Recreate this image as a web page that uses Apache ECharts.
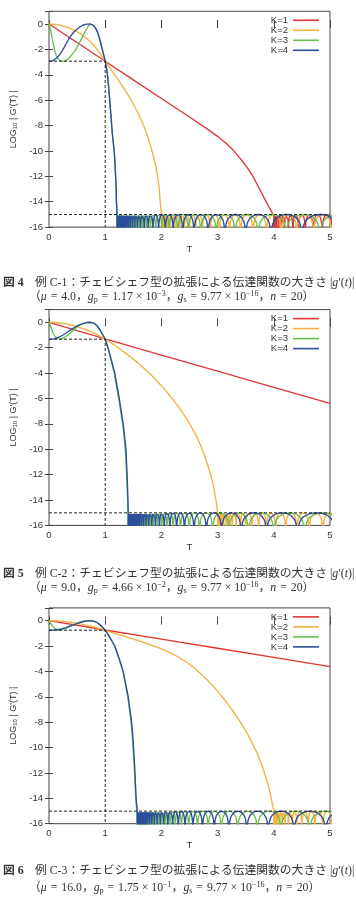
<!DOCTYPE html>
<html><head><meta charset="utf-8">
<script src="https://cdn.jsdelivr.net/npm/echarts@6/dist/echarts.min.js"></script>
<style>html,body{margin:0;padding:0;background:#fff;}#c{width:356px;height:900px;}</style>
</head><body><div id="c"></div>
<script>
// ---------- data ----------
const T_TICKS = [0, 1, 2, 3, 4, 5];
const Y_TICKS = [-16, -14, -12, -10, -8, -6, -4, -2, 0];
const SERIES_NAMES = ['K=1', 'K=2', 'K=3', 'K=4'];
const GP_LOG = [-2.93, -1.33, -0.757];   // log10 gp for C-1, C-2, C-3
const GS_LOG = -15.01;                   // log10 gs
const T_PASS = 1;

// Chart C-1 (mu = 4.0)
const c1_k1 = [[0,0],[0.5,-1.46],[1,-2.93],[1.5,-4.4],[2,-5.87],[2.5,-7.33],[2.8,-8.22],[3,-8.85],[3.15,-9.4],[3.3,-10.05],[3.45,-10.85],[3.55,-11.45],[3.63,-12],[3.7,-12.6],[3.78,-13.28],[3.87,-14.05],[3.93,-14.55],[3.98,-14.95],[4,-15.1]];
const c1_k2 = [[0,0],[0.1,-0.03],[0.2,-0.1],[0.3,-0.22],[0.4,-0.38],[0.5,-0.6],[0.6,-0.88],[0.7,-1.25],[0.8,-1.7],[0.9,-2.25],[1,-2.93],[1.05,-3.25],[1.1,-3.57],[1.2,-4.2],[1.3,-4.85],[1.4,-5.55],[1.5,-6.3],[1.6,-7.15],[1.65,-7.65],[1.7,-8.2],[1.75,-8.8],[1.8,-9.5],[1.85,-10.3],[1.9,-11.2],[1.93,-11.9],[1.96,-12.9],[1.975,-13.8],[1.99,-14.5],[2,-15.01]];
const c1_k3 = [[0,0],[0.015,-0.22],[0.03,-0.5],[0.045,-0.85],[0.06,-1.2],[0.075,-1.55],[0.09,-1.84],[0.11,-2.2],[0.13,-2.5],[0.155,-2.72],[0.18,-2.86],[0.21,-2.92],[0.25,-2.93],[0.29,-2.89],[0.33,-2.8],[0.375,-2.6],[0.42,-2.35],[0.46,-2.1],[0.5,-1.84],[0.54,-1.5],[0.58,-1.15],[0.62,-0.8],[0.65,-0.53],[0.68,-0.3],[0.7,-0.15],[0.72,-0.04],[0.74,0],[0.77,-0.05],[0.8,-0.15],[0.83,-0.35],[0.86,-0.6],[0.89,-1.0],[0.92,-1.5],[0.94,-1.85],[0.96,-2.2],[0.98,-2.55],[1,-2.93],[1.02,-3.4],[1.04,-4],[1.06,-4.9],[1.08,-6],[1.1,-7.1],[1.115,-8],[1.135,-9],[1.16,-10],[1.175,-11],[1.185,-12],[1.195,-13],[1.2,-14],[1.21,-15.01]];
const c1_k4 = [[0,-2.93],[0.05,-2.9],[0.1,-2.8],[0.15,-2.62],[0.2,-2.35],[0.235,-2.1],[0.27,-1.84],[0.31,-1.5],[0.35,-1.2],[0.385,-0.95],[0.42,-0.75],[0.46,-0.55],[0.5,-0.4],[0.55,-0.22],[0.6,-0.1],[0.64,-0.04],[0.68,-0.01],[0.74,0],[0.77,-0.05],[0.8,-0.15],[0.83,-0.35],[0.86,-0.6],[0.89,-1.0],[0.92,-1.5],[0.94,-1.85],[0.96,-2.2],[0.98,-2.55],[1,-2.93],[1.02,-3.4],[1.04,-4],[1.06,-4.9],[1.08,-6],[1.1,-7.1],[1.115,-8],[1.135,-9],[1.16,-10],[1.175,-11],[1.185,-12],[1.195,-13],[1.2,-14],[1.21,-15.01]];
const c1_z1 = [4.0,4.005,4.015,4.03,4.055,4.09,4.135,4.19,4.26,4.34,4.44,4.56,4.7,4.86,5.04];
const c1_z2 = [2.0,2.004,2.01,2.02,2.035,2.055,2.08,2.11,2.15,2.2,2.26,2.33,2.41,2.5,2.61,2.73,2.87,3.03,3.21,3.41,3.63,3.87,4.13,4.41,4.71,5.03];
const c1_z3 = [1.21,1.218,1.224,1.232,1.24,1.25,1.262,1.275,1.29,1.307,1.326,1.348,1.373,1.4,1.431,1.466,1.506,1.551,1.602,1.66,1.728,1.806,1.898,2.008,2.138,2.293,2.478,2.7,2.975,3.31,3.72,4.22,4.82,5.5];
const c1_z4 = [1.21,1.215,1.221,1.228,1.236,1.245,1.256,1.268,1.282,1.298,1.316,1.337,1.36,1.386,1.415,1.448,1.485,1.527,1.575,1.63,1.693,1.765,1.85,1.95,2.07,2.21,2.38,2.58,2.83,3.13,3.5,3.95,4.5,5.15];

// Chart C-2 (mu = 9.0)
const c2_k1 = [[0,0],[1,-1.3],[2,-2.58],[3,-3.85],[4,-5.12],[5,-6.38]];
const c2_k2 = [[0,0],[0.1,-0.013],[0.2,-0.053],[0.3,-0.12],[0.4,-0.213],[0.5,-0.333],[0.6,-0.479],[0.7,-0.652],[0.8,-0.851],[0.9,-1.077],[1,-1.33],[1.1,-1.62],[1.2,-1.91],[1.3,-2.22],[1.4,-2.55],[1.5,-2.9],[1.6,-3.27],[1.7,-3.66],[1.8,-4.08],[1.9,-4.53],[2,-5],[2.1,-5.5],[2.2,-6.05],[2.3,-6.63],[2.4,-7.27],[2.5,-7.97],[2.6,-8.77],[2.65,-9.22],[2.7,-9.72],[2.75,-10.28],[2.8,-10.9],[2.85,-11.6],[2.9,-12.4],[2.94,-13.2],[2.97,-14],[2.99,-14.6],[3,-15.01]];
const c2_k3 = [[0,0],[0.02,-0.22],[0.04,-0.45],[0.06,-0.7],[0.08,-0.9],[0.1,-1.07],[0.12,-1.2],[0.15,-1.29],[0.18,-1.33],[0.21,-1.31],[0.25,-1.25],[0.3,-1.12],[0.35,-0.95],[0.4,-0.75],[0.45,-0.55],[0.5,-0.37],[0.55,-0.22],[0.6,-0.11],[0.65,-0.04],[0.72,0],[0.76,-0.02],[0.8,-0.08],[0.83,-0.17],[0.86,-0.3],[0.89,-0.48],[0.92,-0.72],[0.96,-1.02],[0.98,-1.17],[1,-1.33],[1.025,-1.67],[1.05,-2.05],[1.075,-2.45],[1.1,-2.9],[1.13,-3.45],[1.16,-4],[1.2,-5],[1.24,-6],[1.275,-7],[1.31,-8],[1.335,-9],[1.355,-10],[1.37,-11],[1.38,-12],[1.39,-13],[1.398,-14],[1.405,-15.01]];
const c2_k4 = [[0,-1.33],[0.05,-1.32],[0.1,-1.28],[0.15,-1.21],[0.2,-1.12],[0.25,-1.0],[0.3,-0.86],[0.35,-0.71],[0.4,-0.56],[0.45,-0.42],[0.5,-0.29],[0.55,-0.18],[0.6,-0.1],[0.67,-0.02],[0.74,0],[0.77,-0.03],[0.8,-0.08],[0.83,-0.17],[0.86,-0.3],[0.89,-0.48],[0.92,-0.7],[0.96,-1.0],[0.98,-1.16],[1,-1.33],[1.025,-1.65],[1.05,-2],[1.075,-2.4],[1.1,-2.8],[1.135,-3.4],[1.17,-4],[1.21,-5],[1.25,-6],[1.285,-7],[1.32,-8],[1.345,-9],[1.37,-10],[1.38,-11],[1.39,-12],[1.398,-13],[1.405,-14],[1.41,-15.01]];
const c2_z1 = [];
const c2_z2 = [3.0,3.004,3.012,3.025,3.045,3.072,3.107,3.15,3.2,3.26,3.33,3.41,3.5,3.61,3.73,3.87,4.03,4.21,4.41,4.63,4.87,5.13];
const c2_z3 = [1.405,1.413,1.42,1.428,1.437,1.447,1.459,1.472,1.487,1.504,1.523,1.545,1.57,1.597,1.628,1.663,1.703,1.748,1.8,1.86,1.928,2.006,2.098,2.208,2.338,2.493,2.678,2.91,3.2,3.55,4.0,4.55,5.2];
const c2_z4 = [1.41,1.415,1.421,1.428,1.436,1.445,1.456,1.468,1.482,1.498,1.516,1.537,1.56,1.586,1.615,1.648,1.685,1.727,1.775,1.83,1.893,1.965,2.05,2.15,2.27,2.41,2.58,2.8,3.07,3.42,3.87,4.42,5.1];

// Chart C-3 (mu = 16.0)
const c3_k1 = [[0,0],[1,-0.74],[2,-1.46],[3,-2.18],[4,-2.9],[5,-3.63]];
const c3_k2 = [[0,0],[0.1,-0.012],[0.2,-0.042],[0.3,-0.087],[0.4,-0.146],[0.5,-0.217],[0.6,-0.3],[0.7,-0.395],[0.8,-0.506],[0.9,-0.625],[1,-0.757],[1.1,-0.9],[1.2,-1.04],[1.3,-1.18],[1.4,-1.32],[1.5,-1.46],[1.6,-1.6],[1.7,-1.75],[1.8,-1.9],[1.9,-2.06],[2,-2.23],[2.1,-2.42],[2.2,-2.63],[2.3,-2.87],[2.4,-3.14],[2.5,-3.44],[2.6,-3.78],[2.7,-4.18],[2.8,-4.6],[2.9,-5.06],[3,-5.56],[3.1,-6.1],[3.2,-6.68],[3.3,-7.3],[3.4,-7.96],[3.5,-8.68],[3.6,-9.5],[3.7,-10.42],[3.75,-10.95],[3.8,-11.55],[3.85,-12.2],[3.9,-12.95],[3.94,-13.7],[3.97,-14.35],[3.99,-14.8],[4,-15.01]];
const c3_k3 = [[0,0],[0.025,-0.19],[0.05,-0.35],[0.075,-0.5],[0.1,-0.62],[0.13,-0.71],[0.17,-0.757],[0.21,-0.745],[0.25,-0.7],[0.3,-0.61],[0.35,-0.5],[0.42,-0.35],[0.5,-0.2],[0.56,-0.11],[0.62,-0.04],[0.72,0],[0.77,-0.02],[0.82,-0.08],[0.86,-0.17],[0.9,-0.3],[0.95,-0.52],[0.975,-0.63],[1,-0.757],[1.04,-1.0],[1.08,-1.32],[1.12,-1.65],[1.165,-2],[1.205,-2.5],[1.245,-3],[1.28,-3.5],[1.315,-4],[1.36,-5],[1.4,-6],[1.43,-7],[1.46,-8],[1.48,-9],[1.495,-10],[1.51,-11],[1.522,-12],[1.533,-13],[1.543,-14],[1.565,-15.01]];
const c3_k4 = [[0,-0.757],[0.08,-0.75],[0.15,-0.72],[0.22,-0.65],[0.3,-0.56],[0.37,-0.44],[0.45,-0.31],[0.52,-0.2],[0.6,-0.09],[0.66,-0.03],[0.73,0],[0.78,-0.02],[0.82,-0.08],[0.86,-0.17],[0.9,-0.3],[0.95,-0.5],[0.975,-0.62],[1,-0.757],[1.04,-1.0],[1.08,-1.3],[1.125,-1.65],[1.17,-2],[1.21,-2.5],[1.25,-3],[1.285,-3.5],[1.32,-4],[1.365,-5],[1.41,-6],[1.44,-7],[1.47,-8],[1.49,-9],[1.505,-10],[1.518,-11],[1.53,-12],[1.54,-13],[1.55,-14],[1.57,-15.01]];
const c3_z1 = [];
const c3_z2 = [4.0,4.004,4.012,4.025,4.045,4.072,4.107,4.15,4.2,4.26,4.33,4.41,4.5,4.61,4.73,4.87,5.03];
const c3_z3 = [1.565,1.573,1.58,1.588,1.597,1.607,1.619,1.633,1.649,1.668,1.689,1.713,1.741,1.772,1.807,1.847,1.893,1.946,2.006,2.074,2.153,2.246,2.356,2.486,2.641,2.831,3.066,3.356,3.706,4.126,4.636,5.256];
const c3_z4 = [1.57,1.575,1.581,1.588,1.596,1.606,1.617,1.63,1.645,1.662,1.682,1.704,1.73,1.76,1.793,1.83,1.873,1.922,1.978,2.042,2.115,2.2,2.3,2.42,2.56,2.73,2.94,3.2,3.52,3.9,4.36,4.92,5.6];

const CAP_FIG = ['図 4', '図 5', '図 6'];
const CAP_TITLE = ['例 C-1：チェビシェフ型の拡張による伝達関数の大きさ |{i|g}′({i|t})|',
                   '例 C-2：チェビシェフ型の拡張による伝達関数の大きさ |{i|g}′({i|t})|',
                   '例 C-3：チェビシェフ型の拡張による伝達関数の大きさ |{i|g}′({i|t})|'];
const CAP_MU = ['4.0', '9.0', '16.0'];
const CAP_GP = [['1.17', '−3'], ['4.66', '−2'], ['1.75', '−1']];
const CAP_GS = ['9.77', '−16'];
const CAP_N = '20';

// ---------- drawing ----------
const COLORS = ['#e03535', '#f5b03e', '#6cbf4e', '#2d4e9c'];
// arch template of one stop-band lobe (relative position, level below peak)
const ARCH_U = [0,0.01,0.03,0.06,0.1,0.15,0.2,0.3,0.4,0.5,0.6,0.7,0.8,0.85,0.9,0.94,0.97,0.99,1];
const ARCH_D = [-3,-1.5,-1.03,-0.73,-0.51,-0.34,-0.23,-0.09,-0.02,0,-0.02,-0.09,-0.23,-0.34,-0.51,-0.73,-1.03,-1.5,-3];
function lobes(zeros){
  const out = [];
  if (!zeros.length) return out;
  out.push([zeros[0], GS_LOG], [zeros[0], GS_LOG + ARCH_D[0]]);
  for (let i = 0; i < zeros.length - 1; i++) {
    const a = zeros[i], w = zeros[i+1] - a;
    for (let j = 1; j < ARCH_U.length; j++) out.push([a + ARCH_U[j]*w, GS_LOG + ARCH_D[j]]);
  }
  return out;
}

const CH = [
  {top: 11.3, main: [c1_k1,c1_k2,c1_k3,c1_k4], zeros: [c1_z1,c1_z2,c1_z3,c1_z4], capY: [284, 297]},
  {top: 309.6, main: [c2_k1,c2_k2,c2_k3,c2_k4], zeros: [c2_z1,c2_z2,c2_z3,c2_z4], capY: [575, 588]},
  {top: 607.9, main: [c3_k1,c3_k2,c3_k3,c3_k4], zeros: [c3_z1,c3_z2,c3_z3,c3_z4], capY: [872, 888]}
];
const H = 215.8;
const AX = '#444', TXT = '#333';
const grid = [], xAxis = [], yAxis = [], series = [], legend = [], graphic = [];
CH.forEach((c, i) => {
  grid.push({left: 49, width: 281, top: c.top, height: H, show: true, borderColor: AX, borderWidth: 1, containLabel: false});
  const xb = {type: 'value', gridIndex: i, min: T_TICKS[0], max: T_TICKS[T_TICKS.length-1], interval: 1,
    axisLine: {show: false}, splitLine: {show: false},
    axisTick: {inside: true, length: 4, lineStyle: {color: AX}}};
  xAxis.push(Object.assign({}, xb, {position: 'bottom', name: 'T', nameLocation: 'middle', nameGap: 17,
    nameTextStyle: {fontSize: 9.5, color: TXT, fontFamily: 'Liberation Sans'},
    axisLabel: {fontSize: 9.5, color: TXT, margin: 5, fontFamily: 'Liberation Sans'}}));
  xAxis.push(Object.assign({}, xb, {position: 'top', axisLabel: {show: false}}));
  const yb = {type: 'value', gridIndex: i, min: Y_TICKS[0], max: 1, interval: 2,
    axisLine: {show: false}, splitLine: {show: false},
    axisTick: {inside: true, length: 4, lineStyle: {color: AX}}};
  yAxis.push(Object.assign({}, yb, {position: 'left', name: 'LOG{s|10} | G\'(T) |', nameLocation: 'middle', nameGap: 28,
    nameTextStyle: {fontSize: 9, color: TXT, fontFamily: 'Liberation Sans', rich: {s: {fontSize: 6, color: TXT, verticalAlign: 'bottom', fontFamily: 'Liberation Sans'}}},
    axisLabel: {fontSize: 9.5, color: TXT, margin: 6, fontFamily: 'Liberation Sans', formatter: v => (v > 0.5 ? '' : String(v))}}));
  yAxis.push(Object.assign({}, yb, {position: 'right', axisLabel: {show: false}}));
  const xi = i*2, yi = i*2;
  for (let k = 0; k < 4; k++) {
    const common = {name: SERIES_NAMES[k], type: 'line', xAxisIndex: xi, yAxisIndex: yi, symbol: 'none', silent: true,
      animation: false, clip: true, smooth: false, color: COLORS[k], lineStyle: {width: 1.35, color: COLORS[k]}};
    series.push(Object.assign({}, common, {data: c.main[k]}));
    const lb = lobes(c.zeros[k]);
    if (lb.length) series.push(Object.assign({}, common, {data: lb}));
  }
  const gp = GP_LOG[i];
  const dash = {type: 'line', xAxisIndex: xi, yAxisIndex: yi, symbol: 'none', silent: true, animation: false, z: 3,
    lineStyle: {width: 1, color: '#222', type: [3, 2]}};
  series.push(Object.assign({}, dash, {data: [[T_TICKS[0], gp], [T_PASS, gp], [T_PASS, Y_TICKS[0]]]}));
  series.push(Object.assign({}, dash, {data: [[T_TICKS[0], GS_LOG], [T_TICKS[T_TICKS.length-1], GS_LOG]]}));
  legend.push({data: SERIES_NAMES, orient: 'vertical', right: 37, top: c.top + 4, align: 'right', icon: 'rect',
    itemWidth: 26, itemHeight: 1.6, itemGap: 0, selectedMode: false, padding: 0,
    textStyle: {fontSize: 9.5, color: TXT, lineHeight: 8, fontFamily: 'Liberation Sans'}});
  const ff = "'Liberation Serif', 'Noto Sans CJK JP', serif";
  const fs = 11.8;
  graphic.push({type: 'text', left: 3, top: c.capY[0] - 7, style: {text: CAP_FIG[i], font: "bold 11.8px 'Liberation Serif', 'Noto Sans CJK JP'", fill: TXT}});
  graphic.push({type: 'text', left: 35, top: c.capY[0] - 7, style: {text: CAP_TITLE[i], fontSize: fs, fontFamily: ff, fill: TXT,
    rich: {i: {fontStyle: 'italic', fontSize: fs, fontFamily: ff}}}});
  const EQ = '\u2004=\u2004', TM = '\u2005×\u2005';
  const line2 = '（{i|μ}' + EQ + CAP_MU[i] + '，{i|g}{sub|p}' + EQ + CAP_GP[i][0] + TM + '10{sup|' + CAP_GP[i][1] + '}，{i|g}{sub|s}' + EQ +
    CAP_GS[0] + TM + '10{sup|' + CAP_GS[1] + '}，{i|n}' + EQ + CAP_N + '）';
  graphic.push({type: 'text', left: 29, top: c.capY[1] - 7, style: {text: line2, fontSize: fs, fontFamily: ff, fill: TXT, lineHeight: 14,
    rich: {i: {fontStyle: 'italic', fontSize: fs, fontFamily: ff, lineHeight: 14},
           sub: {fontSize: 8, fontFamily: ff, verticalAlign: 'bottom', lineHeight: 14},
           sup: {fontSize: 8, fontFamily: ff, verticalAlign: 'top', lineHeight: 14}}}});
});

const chart = echarts.init(document.getElementById('c'), null, {renderer: 'canvas'});
chart.setOption({animation: false, backgroundColor: '#fff', grid, xAxis, yAxis, series, legend, graphic});
</script></body></html>
